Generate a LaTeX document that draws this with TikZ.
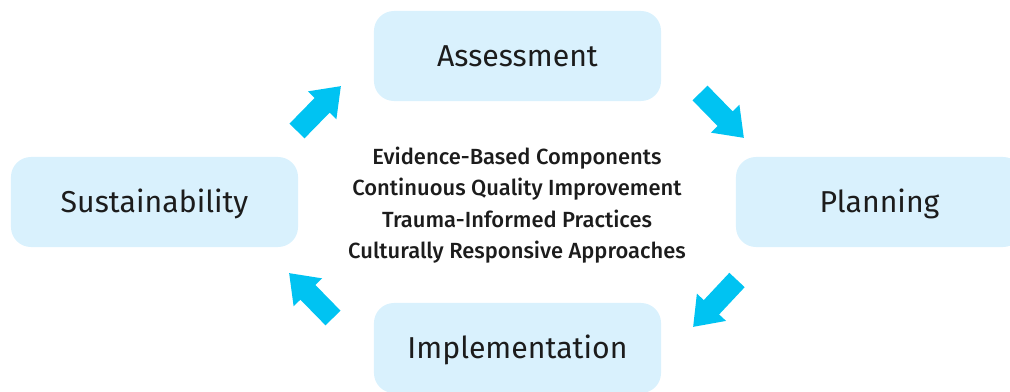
\documentclass[tikz,border=0pt]{standalone}
\usepackage{fontspec}
\setmainfont{Fira Sans}[BoldFont={Fira Sans Medium}]
\usepackage{tikz}
\usetikzlibrary{arrows.meta,positioning}
\definecolor{boxblue}{HTML}{D9F1FD}
\definecolor{arrowcyan}{HTML}{00C3F2}
\definecolor{inkgrey}{HTML}{1C1C1C}
\tikzset{stagebox/.style={fill=boxblue,rounded corners=0.5cm,minimum width=7.175cm,minimum height=2.25cm,
        text=inkgrey,font=\fontsize{21.5}{24}\selectfont,text height=14.8pt,text depth=0pt},
    cyclearrow/.style={draw=arrowcyan,line width=0.525cm,-{Triangle[width=0.95cm,length=0.675cm]}},
    featurelist/.style={align=center,text=inkgrey,font=\fontsize{15.6}{22.4}\selectfont\bfseries}
}

\begin{document}
\begin{tikzpicture}[x=0.025cm,y=-0.025cm]

\useasboundingbox (0,0) rectangle (1010,392);
\clip (0,0) rectangle (1010,392);

% the four stages
\node (assess) at (517.5,56) [stagebox] {Assessment};
\node (plan) at (879.5,202) [stagebox] {Planning};
\node (implement) at (517.5,348) [stagebox] {Implementation};
\node (sustain) at (154.5,202) [stagebox] {Sustainability};

% centre text
\node (features) at (517,205) [featurelist] {Evidence-Based Components\\Continuous Quality Improvement\\Trauma-Informed Practices\\Culturally Responsive Approaches};

% arrows of the cycle
\coordinate (assessTail) at (700,93);
\coordinate (assessTip) at (744,138);
\coordinate (planTail) at (737,280);
\coordinate (planTip) at (693,327);
\coordinate (implementTail) at (333,318);
\coordinate (implementTip) at (289,273);
\coordinate (sustainTail) at (297,131);
\coordinate (sustainTip) at (341,86);

\draw [cyclearrow] (assessTail) -- (assessTip);
\draw [cyclearrow] (planTail) -- (planTip);
\draw [cyclearrow] (implementTail) -- (implementTip);
\draw [cyclearrow] (sustainTail) -- (sustainTip);

\end{tikzpicture}
\end{document}
